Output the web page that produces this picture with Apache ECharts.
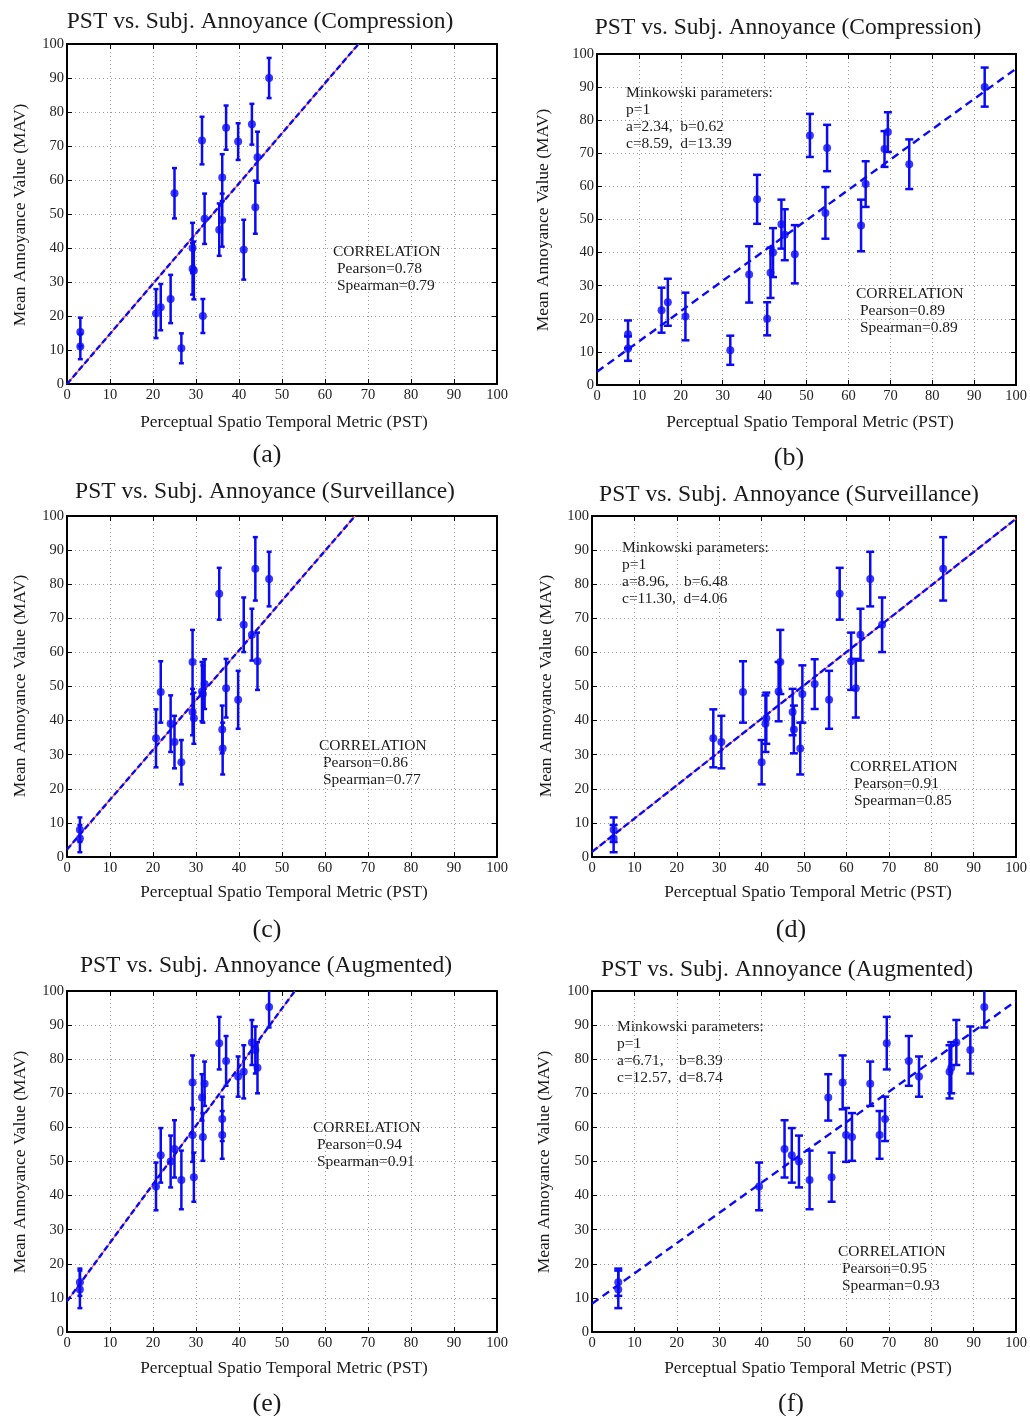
<!DOCTYPE html>
<html>
<head>
<meta charset="utf-8">
<script src="https://cdn.jsdelivr.net/npm/echarts@6/dist/echarts.min.js"></script>
<style>
html, body { margin: 0; padding: 0; background: #fff; }
#chart { width: 1030px; height: 1416px; }
</style>
</head>
<body>
<div id="chart"></div>
<script>
// ---- Compression set: (a) PST, (b) Minkowski-pooled PST, shared MAV ----
var compPstA = [3.1, 3.1, 20.7, 21.8, 24.1, 25.0, 26.6, 29.2, 29.2, 29.5, 31.4, 31.6, 32.0, 35.4, 36.1, 36.1, 37.0, 39.8, 41.1, 43.0, 43.8, 44.3, 47.0];
var compPstB = [7.4, 7.4, 21.1, 15.4, 16.9, 38.2, 31.8, 42.0, 41.4, 36.3, 54.9, 40.6, 44.0, 44.8, 64.1, 63.0, 50.8, 68.6, 47.2, 69.4, 54.5, 74.5, 92.5];
var compMav  = [15.3, 11.0, 20.7, 22.6, 25.0, 56.1, 10.5, 40.0, 33.9, 33.4, 71.6, 20.0, 48.6, 45.4, 60.7, 48.2, 75.4, 71.3, 39.5, 76.4, 52.0, 66.7, 90.0];
var compErr  = [4.2, 3.7, 7.2, 6.8, 7.1, 7.4, 4.4, 7.4, 7.6, 8.5, 7.0, 5.0, 7.4, 7.7, 6.9, 7.8, 6.5, 5.4, 8.8, 6.0, 7.8, 7.5, 5.9];

// ---- Surveillance set: (c), (d) ----
var survPstC = [3.0, 3.0, 20.7, 21.8, 24.1, 25.0, 26.6, 29.2, 29.2, 29.5, 31.4, 31.6, 32.0, 35.4, 36.1, 36.2, 37.0, 39.8, 41.1, 43.0, 43.8, 44.3, 47.0];
var survPstD = [5.1, 5.1, 28.6, 35.6, 40.9, 30.5, 40.0, 44.4, 47.3, 41.1, 44.0, 49.6, 52.5, 58.4, 47.6, 49.1, 62.2, 55.9, 68.4, 63.3, 82.8, 61.1, 65.6];
var survMav  = [8.0, 5.4, 34.8, 48.4, 39.1, 33.7, 27.8, 57.2, 42.5, 40.7, 48.5, 47.8, 50.7, 77.2, 37.4, 31.8, 49.5, 46.1, 68.1, 65.2, 84.5, 57.4, 81.5];
var survErr  = [3.6, 4.0, 8.5, 9.0, 8.3, 7.7, 6.5, 9.4, 6.8, 7.5, 8.7, 8.4, 7.3, 7.6, 7.0, 7.6, 8.6, 8.5, 8.0, 7.6, 9.3, 8.4, 8.0];

// ---- Augmented set: (e), (f) ----
var augPstE = [3.0, 3.0, 20.7, 21.8, 24.1, 25.0, 26.6, 29.2, 29.2, 29.5, 31.4, 31.6, 32.0, 35.4, 36.1, 36.1, 37.0, 39.8, 41.1, 43.0, 43.8, 44.3, 47.0];
var augPstF = [6.2, 6.2, 39.4, 47.1, 48.8, 45.4, 51.3, 59.1, 59.9, 56.5, 55.7, 61.3, 65.6, 69.5, 69.1, 67.8, 74.7, 77.1, 84.3, 85.9, 89.2, 84.7, 92.5];
var augMav  = [14.6, 12.5, 42.7, 51.8, 50.0, 53.7, 44.6, 73.2, 57.8, 45.4, 68.8, 57.2, 72.8, 84.7, 62.5, 57.8, 79.5, 74.9, 76.3, 84.9, 82.7, 77.5, 95.3];
var augErr  = [4.0, 5.5, 7.0, 8.0, 7.6, 8.4, 8.6, 7.9, 7.9, 7.2, 6.8, 7.0, 6.5, 7.7, 6.5, 7.0, 7.3, 5.9, 7.8, 6.6, 6.9, 7.5, 6.0];

// fitted lines, end points
var fitA = [[0, 0], [67.8, 100]];
var fitB = [[0, 4.0], [100, 95.6]];
var fitC = [[0, 2.2], [67.0, 100]];
var fitD = [[0, 1.5], [100, 99.2]];
var fitE = [[0, 9.0], [53.0, 100]];
var fitF = [[0, 8.3], [100, 97.1]];

var axisTicks = [0, 10, 20, 30, 40, 50, 60, 70, 80, 90, 100];

var titles = [
    'PST vs. Subj. Annoyance (Compression)', 'PST vs. Subj. Annoyance (Compression)',
    'PST vs. Subj. Annoyance (Surveillance)', 'PST vs. Subj. Annoyance (Surveillance)',
    'PST vs. Subj. Annoyance (Augmented)', 'PST vs. Subj. Annoyance (Augmented)'
];
var captions = ['(a)', '(b)', '(c)', '(d)', '(e)', '(f)'];
var corrText = [
    ['Pearson=0.78', 'Spearman=0.79'],
    ['Pearson=0.89', 'Spearman=0.89'],
    ['Pearson=0.86', 'Spearman=0.77'],
    ['Pearson=0.91', 'Spearman=0.85'],
    ['Pearson=0.94', 'Spearman=0.91'],
    ['Pearson=0.95', 'Spearman=0.93']
];
var minkText = [
    null,
    ['p=1', 'a=2.34,  b=0.62', 'c=8.59,  d=13.39'],
    null,
    ['p=1', 'a=8.96,    b=6.48', 'c=11.30,  d=4.06'],
    null,
    ['p=1', 'a=6.71,    b=8.39', 'c=12.57,  d=8.74']
];

var FONT = '"Liberation Serif", "Times New Roman", serif';
var BLUE = '#0a0af5';

var panels = [
    { grid: {left: 67,  top: 44,  width: 430, height: 340}, pst: compPstA, mav: compMav, err: compErr, fit: fitA, red: true,  cap: 2.5, dash: [6, 3],
      title: [260, 22], xl: [284, 422], yl: [20, 215], cap2: [267, 455], corr: [333, 252], mink: null },
    { grid: {left: 597, top: 54,  width: 421, height: 331}, pst: compPstB, mav: compMav, err: compErr, fit: fitB, red: false, cap: 4,   dash: [8, 5],
      title: [788, 28], xl: [810, 422], yl: [543, 220], cap2: [789, 458], corr: [856, 294], mink: [626, 93] },
    { grid: {left: 67,  top: 516, width: 430, height: 341}, pst: survPstC, mav: survMav, err: survErr, fit: fitC, red: true,  cap: 2.5, dash: [6, 3],
      title: [265, 492], xl: [284, 892], yl: [20, 686], cap2: [267, 930], corr: [319, 746], mink: null },
    { grid: {left: 592, top: 516, width: 427, height: 341}, pst: survPstD, mav: survMav, err: survErr, fit: fitD, red: true,  cap: 4,   dash: [7, 3],
      title: [789, 495], xl: [808, 892], yl: [546, 686], cap2: [791, 930], corr: [850, 767], mink: [622, 548] },
    { grid: {left: 67,  top: 991, width: 430, height: 341}, pst: augPstE, mav: augMav, err: augErr, fit: fitE, red: true,  cap: 2.5, dash: [6, 3],
      title: [266, 966], xl: [284, 1368], yl: [20, 1162], cap2: [267, 1404], corr: [313, 1128], mink: null },
    { grid: {left: 592, top: 991, width: 426, height: 341}, pst: augPstF, mav: augMav, err: augErr, fit: fitF, red: false, cap: 4,   dash: [8, 5],
      title: [787, 970], xl: [808, 1368], yl: [544, 1162], cap2: [791, 1404], corr: [838, 1252], mink: [617, 1027] }
];

function makeAxis(i, pos, isX) {
    var main = (pos === 'bottom' || pos === 'left');
    return {
        gridIndex: i, type: 'value', position: pos,
        min: axisTicks[0], max: axisTicks[axisTicks.length - 1], interval: 10,
        axisLine: { show: true, onZero: false, lineStyle: { color: '#000', width: 2 } },
        axisTick: { show: true, inside: true, length: 5, lineStyle: { color: '#000', width: 1 } },
        axisLabel: { show: main, fontFamily: FONT, fontSize: 14.5, color: '#222', margin: isX ? 4 : 3 },
        splitLine: { show: main, lineStyle: { type: [1, 3], color: '#9a9a9a', width: 1 } }
    };
}

function errItem(cap) {
    return function (params, api) {
        var x = api.value(0), y = api.value(1), e = api.value(2);
        var hi = api.coord([x, y + e]);
        var lo = api.coord([x, y - e]);
        var st = { stroke: BLUE, lineWidth: 2.5 };
        return {
            type: 'group',
            children: [
                { type: 'line', shape: { x1: hi[0], y1: hi[1], x2: lo[0], y2: lo[1] }, style: st },
                { type: 'line', shape: { x1: hi[0] - cap, y1: hi[1], x2: hi[0] + cap, y2: hi[1] }, style: st },
                { type: 'line', shape: { x1: lo[0] - cap, y1: lo[1], x2: lo[0] + cap, y2: lo[1] }, style: st }
            ]
        };
    };
}

function txt(text, x, y, size, align, rot) {
    return {
        type: 'text', x: x, y: y, rotation: rot || 0, silent: true,
        style: {
            text: text, font: size + 'px ' + FONT, fill: '#1a1a1a',
            align: align, verticalAlign: 'middle',
            textAlign: align, textVerticalAlign: 'middle'
        }
    };
}

var grids = [], xAxes = [], yAxes = [], series = [], graphics = [];

panels.forEach(function (p, i) {
    grids.push(p.grid);
    xAxes.push(makeAxis(i, 'bottom', true));
    xAxes.push(makeAxis(i, 'top', true));
    yAxes.push(makeAxis(i, 'left', false));
    yAxes.push(makeAxis(i, 'right', false));

    var pts = [], bars = [];
    for (var k = 0; k < p.pst.length; k++) {
        pts.push([p.pst[k], p.mav[k]]);
        bars.push([p.pst[k], p.mav[k], p.err[k]]);
    }

    if (p.red) {
        series.push({
            type: 'line', xAxisIndex: 2 * i, yAxisIndex: 2 * i, data: p.fit,
            symbol: 'none', silent: true, clip: true, z: 2,
            lineStyle: { color: '#ff5050', width: 1.2 }
        });
    }
    series.push({
        type: 'line', xAxisIndex: 2 * i, yAxisIndex: 2 * i, data: p.fit,
        symbol: 'none', silent: true, clip: true, z: 3,
        lineStyle: { color: BLUE, width: 2.4, type: p.dash }
    });
    series.push({
        type: 'custom', xAxisIndex: 2 * i, yAxisIndex: 2 * i, data: bars,
        encode: { x: 0, y: 1 }, clip: true, silent: true, z: 4,
        renderItem: errItem(p.cap)
    });
    series.push({
        type: 'scatter', xAxisIndex: 2 * i, yAxisIndex: 2 * i, data: pts,
        symbol: 'circle', symbolSize: 8, silent: true, z: 5,
        itemStyle: { color: BLUE }
    });

    graphics.push(txt(titles[i], p.title[0], p.title[1], 23.5, 'center'));
    graphics.push(txt('Perceptual Spatio Temporal Metric (PST)', p.xl[0], p.xl[1], 17.3, 'center'));
    graphics.push(txt('Mean Annoyance Value (MAV)', p.yl[0], p.yl[1], 17.5, 'center', Math.PI / 2));
    graphics.push(txt(captions[i], p.cap2[0], p.cap2[1], 26, 'center'));

    graphics.push(txt('CORRELATION', p.corr[0], p.corr[1], 15.5, 'left'));
    graphics.push(txt(corrText[i][0], p.corr[0] + 4, p.corr[1] + 17, 15.5, 'left'));
    graphics.push(txt(corrText[i][1], p.corr[0] + 4, p.corr[1] + 34, 15.5, 'left'));

    if (p.mink) {
        graphics.push(txt('Minkowski parameters:', p.mink[0], p.mink[1], 15.5, 'left'));
        for (var m = 0; m < minkText[i].length; m++) {
            graphics.push(txt(minkText[i][m], p.mink[0], p.mink[1] + 17 * (m + 1), 15.5, 'left'));
        }
    }
});

var chart = echarts.init(document.getElementById('chart'));
chart.setOption({
    animation: false,
    backgroundColor: '#fff',
    grid: grids,
    xAxis: xAxes,
    yAxis: yAxes,
    series: series,
    graphic: graphics
});
</script>
</body>
</html>
